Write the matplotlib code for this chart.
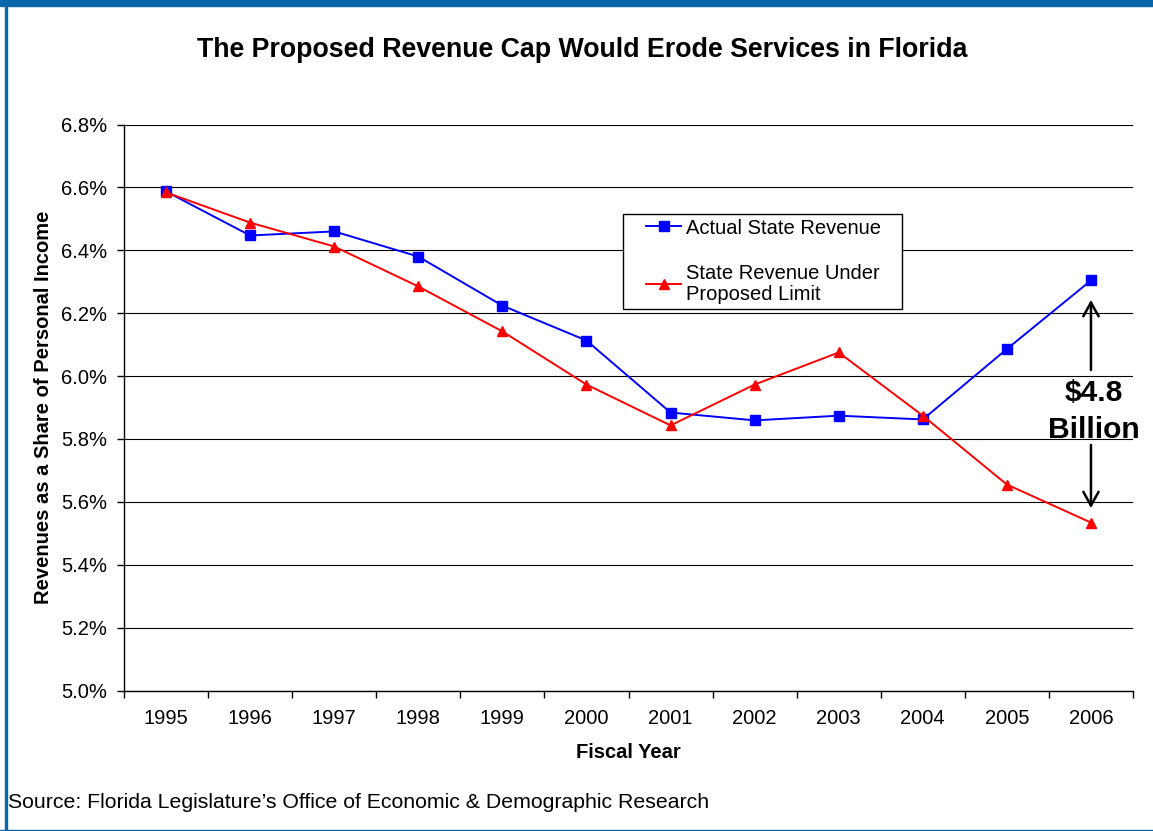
import matplotlib
matplotlib.use("Agg")
import matplotlib.pyplot as plt
from matplotlib.patches import Rectangle
from matplotlib.ticker import FixedLocator, NullFormatter

plt.rcParams['font.family'] = ['Liberation Sans', 'DejaVu Sans']

years = ['1995', '1996', '1997', '1998', '1999', '2000', '2001', '2002', '2003', '2004', '2005', '2006']
actual = [6.587, 6.447, 6.460, 6.380, 6.224, 6.113, 5.884, 5.859, 5.874, 5.862, 6.086, 6.304]
limit = [6.584, 6.488, 6.412, 6.285, 6.142, 5.973, 5.843, 5.973, 6.075, 5.874, 5.655, 5.534]
yticks = [5.0, 5.2, 5.4, 5.6, 5.8, 6.0, 6.2, 6.4, 6.6, 6.8]

W, H = 1153, 831
FS = 14.5
fig = plt.figure(figsize=(W / 100, H / 100), dpi=100)
ax = fig.add_axes([124 / W, 1 - 690.5 / H, (1133 - 124) / W, (690.5 - 124.5) / H])

x = list(range(len(years)))
ax.plot(x, actual, color='#0000FF', lw=1.4, marker='s', ms=7, mec='#0000FF', mfc='#0000FF',
        label='Actual State Revenue', zorder=3)
ax.plot(x, limit, color='#FF0000', lw=1.4, marker='^', ms=7.5, mec='#FF0000', mfc='#FF0000',
        label='State Revenue Under\nProposed Limit', zorder=3)

ax.set_xlim(-0.5, len(years) - 0.5)
ax.set_ylim(5.0, 6.8)
ax.set_yticks(yticks)
ax.set_yticklabels([f'{v:.1f}%' for v in yticks])
ax.yaxis.grid(True, color='#000000', lw=0.8)
ax.set_axisbelow(True)

ax.set_xticks(x)
ax.set_xticklabels(years)
ax.xaxis.set_minor_locator(FixedLocator([i - 0.5 for i in range(len(years) + 1)]))
ax.xaxis.set_minor_formatter(NullFormatter())
ax.tick_params(axis='x', which='major', length=0, pad=13, labelsize=FS)
ax.tick_params(axis='x', which='minor', length=5, width=1, direction='out', color='black')
ax.tick_params(axis='y', which='major', length=5, width=1, direction='out', pad=7, labelsize=FS)

for s in ['top', 'right']:
    ax.spines[s].set_visible(False)
for s in ['left', 'bottom']:
    ax.spines[s].set_color('black')
    ax.spines[s].set_linewidth(1)

ax.set_xlabel('Fiscal Year', fontsize=FS, fontweight='bold')
ax.xaxis.set_label_coords(504 / 1009, (690.5 - 743) / 566)
ax.set_ylabel('Revenues as a Share of Personal Income', fontsize=FS, fontweight='bold')
ax.yaxis.set_label_coords((53 - 124) / 1009, 0.5)

fig.text(582 / W, 1 - 50 / H, 'The Proposed Revenue Cap Would Erode Services in Florida',
         ha='center', va='center', fontsize=19.3, fontweight='bold')
fig.text(8 / W, 1 - 802 / H, 'Source: Florida Legislature\u2019s Office of Economic & Demographic Research',
         ha='left', va='center', fontsize=15.3)

# legend box drawn separately to match the reference's frame
ax.add_patch(Rectangle((623 / W, 1 - 309 / H), (902 - 623) / W, (309 - 214) / H,
                       transform=fig.transFigure, facecolor='white', edgecolor='black',
                       lw=1, zorder=4.5, clip_on=False))
leg = ax.legend(loc='upper left', bbox_to_anchor=(646 / W, 1 - 218.5 / H), bbox_transform=fig.transFigure,
                borderaxespad=0, borderpad=0, frameon=False, fontsize=FS,
                handlelength=1.75, labelspacing=1.3, handletextpad=0.25)
leg.get_texts()[1].set_linespacing(1.15)
leg.set_zorder(5)

# annotation: $4.8 Billion gap
xa = len(years) - 1
arrow_kw = dict(arrowstyle='->,head_length=0.45,head_width=0.25', lw=1.8, color='black',
                mutation_scale=22, shrinkA=0, shrinkB=0)
ax.annotate('', xy=(xa, 6.242), xytext=(xa, 6.019), arrowprops=arrow_kw)
ax.annotate('', xy=(xa, 5.58), xytext=(xa, 5.781), arrowprops=arrow_kw)
ax.text(xa + 0.03, 5.888, '$4.8\nBillion', ha='center', va='center', fontsize=21.6, fontweight='bold',
        linespacing=1.4, zorder=4)

# page border
fig.patches.append(Rectangle((0, 1 - 6 / H), 1, 6 / H, transform=fig.transFigure,
                             color='#0A66AA', zorder=0))
fig.patches.append(Rectangle((5 / W, 0), 2 / W, 1, transform=fig.transFigure,
                             color='#0A66AA', zorder=0))
fig.patches.append(Rectangle((0, 0), 1, 1.5 / H, transform=fig.transFigure,
                             color='#0A66AA', zorder=0))

fig.savefig('out.png', dpi=100)
